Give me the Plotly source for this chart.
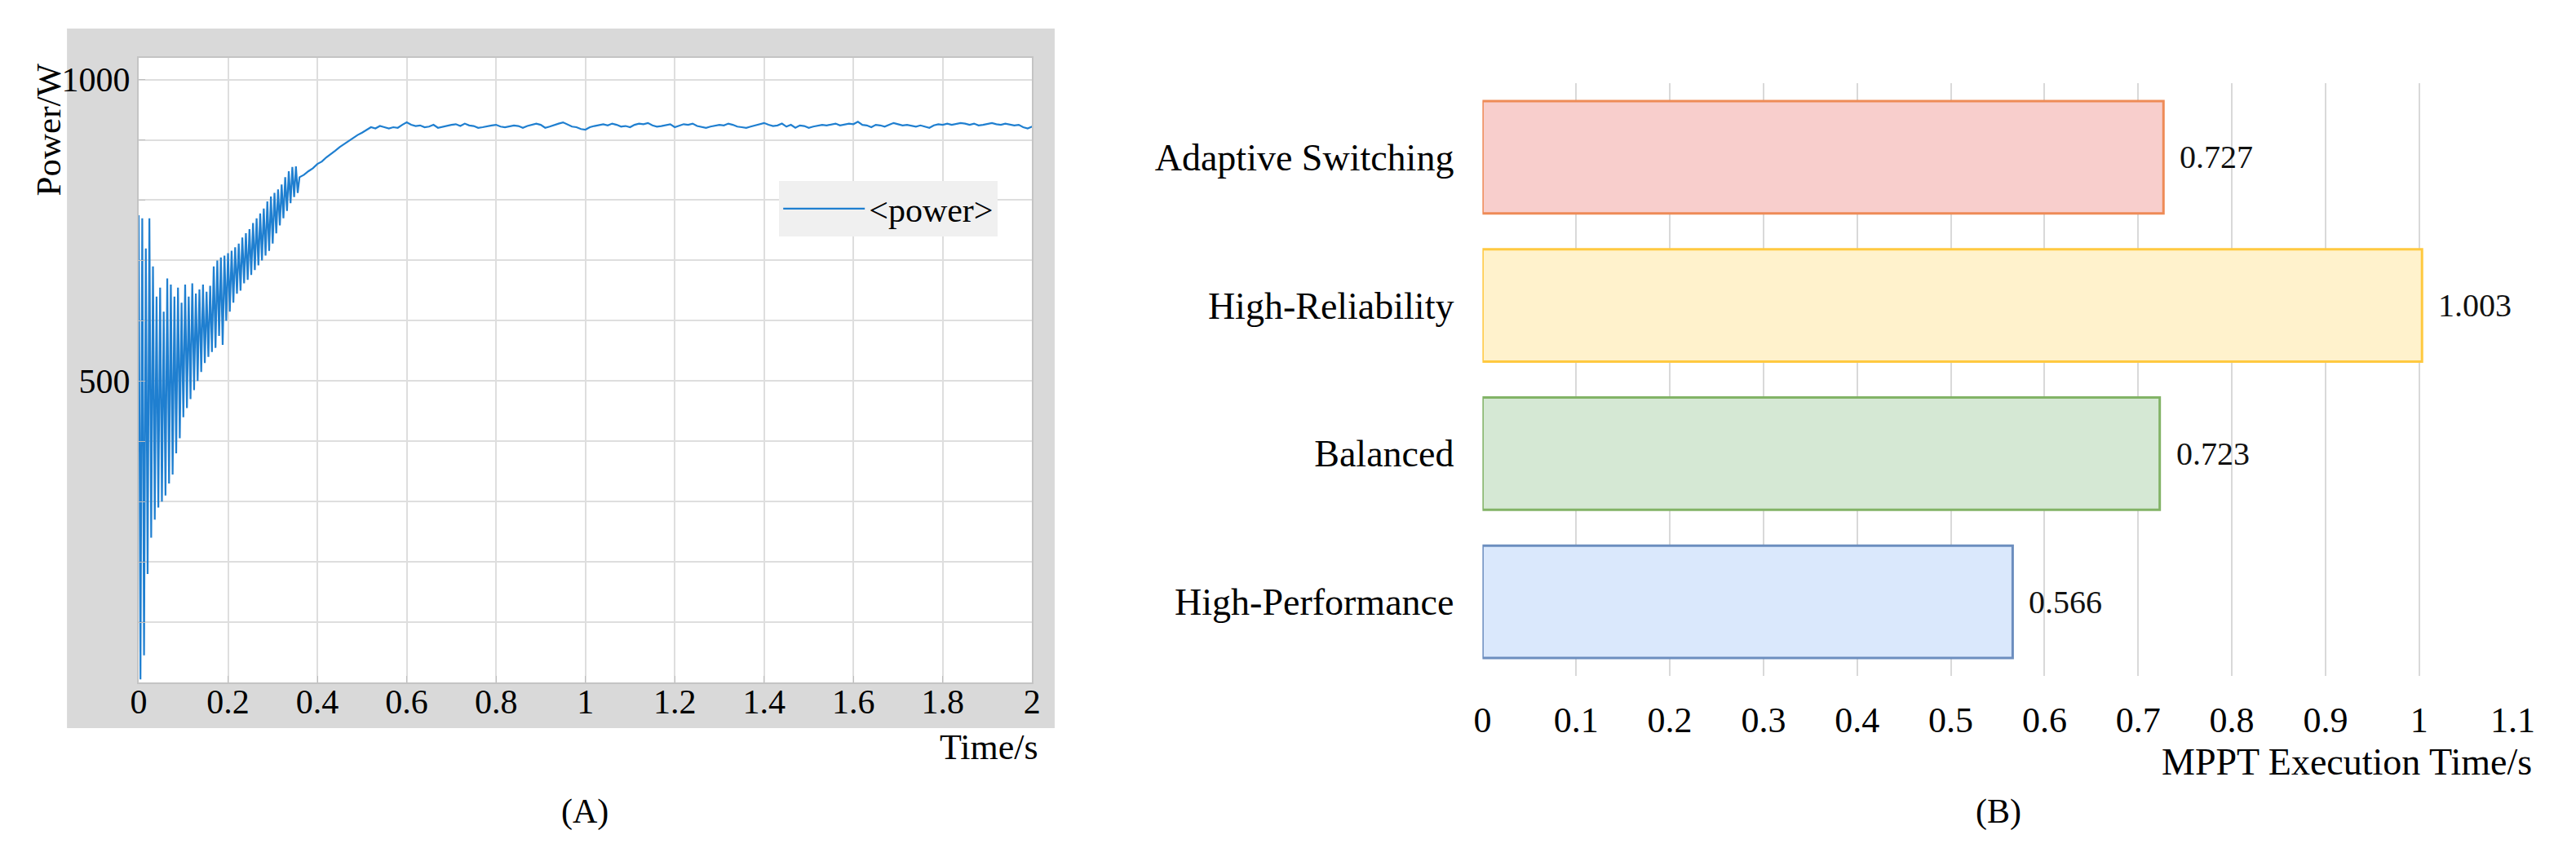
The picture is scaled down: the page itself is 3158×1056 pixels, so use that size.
import plotly.graph_objects as go

# ---------------- Panel A: power vs time ----------------
dt_osc = 0.004  # sample spacing of the oscillating start-up segment (s)
p_osc = [775, 5, 770, 45, 720, 180, 770, 240, 690, 270,
         640, 290, 655, 300, 615, 310, 670, 330, 660, 345,
         640, 380, 655, 405, 630, 440, 660, 455, 640, 470,
         662, 485, 645, 500, 652, 515, 660, 530, 648, 540,
         658, 548, 690, 555, 700, 575, 705, 560, 708, 600,
         712, 615, 716, 630, 722, 645, 728, 650, 738, 662,
         745, 668, 752, 676, 762, 684, 770, 692, 778, 700,
         786, 708, 798, 716, 806, 728, 812, 745, 818, 758,
         826, 770, 838, 782, 848, 795, 855, 805, 856, 812]

t_steady_start = 0.36
dt_steady = 0.01
p_steady = [838, 842, 848, 853, 860, 864, 871, 876, 882, 888,
            893, 899, 904, 908, 912, 916, 921, 919, 923, 921,
            919, 921, 920, 925, 929, 925, 923, 924, 921, 922,
            925, 920, 922, 924, 925, 926, 923, 927, 924, 923,
            920, 921, 923, 924, 925, 922, 921, 923, 924, 923,
            920, 923, 925, 927, 925, 920, 922, 925, 927, 929,
            925, 922, 921, 918, 917, 921, 923, 925, 926, 924,
            927, 925, 922, 923, 921, 925, 927, 926, 928, 924,
            922, 923, 925, 926, 921, 924, 926, 925, 927, 923,
            921, 920, 922, 923, 925, 924, 927, 925, 922, 921,
            920, 922, 924, 926, 928, 925, 923, 924, 927, 922,
            925, 920, 924, 923, 920, 922, 923, 925, 924, 926,
            927, 924, 925, 927, 926, 930, 925, 924, 921, 925,
            924, 922, 925, 928, 926, 924, 925, 923, 922, 924,
            922, 920, 924, 926, 925, 927, 925, 926, 928, 927,
            925, 927, 924, 925, 927, 928, 926, 925, 927, 926,
            924, 925, 921, 919, 922]

time_ticks = [0, 0.2, 0.4, 0.6, 0.8, 1.0, 1.2, 1.4, 1.6, 1.8, 2.0]
time_tick_labels = ["0", "0.2", "0.4", "0.6", "0.8", "1", "1.2", "1.4", "1.6", "1.8", "2"]
power_ticks = [0, 100, 200, 300, 400, 500, 600, 700, 800, 900, 1000]
power_tick_labels = ["", "", "", "", "", "500", "", "", "", "", "1000"]

# ---------------- Panel B: MPPT execution time ----------------
strategies = ["Adaptive Switching", "High-Reliability", "Balanced", "High-Performance"]
exec_times = [0.727, 1.003, 0.723, 0.566]
fill_colors = ["#F8CECC", "#FFF2CC", "#D5E8D4", "#DAE8FC"]
edge_colors = ["#EE8B57", "#FFC940", "#82B366", "#6C8EBF"]
exec_ticks = [0, 0.1, 0.2, 0.3, 0.4, 0.5, 0.6, 0.7, 0.8, 0.9, 1.0, 1.1]
exec_tick_labels = ["0", "0.1", "0.2", "0.3", "0.4", "0.5", "0.6", "0.7", "0.8", "0.9", "1", "1.1"]

# ---------------- layout geometry (pixels) ----------------
W, H = 3158, 1056
FONT = "Liberation Serif, Times New Roman, serif"


def px(x):
    return x / W


def py(y):
    return 1 - y / H


a_dom_x = [px(161), px(1270)]
a_dom_y = [py(837), py(71)]
b_dom_x = [px(1829), px(3108)]
b_dom_y = [py(829), py(102)]

t_all = [round(i * dt_osc, 3) for i in range(len(p_osc))] + \
        [round(t_steady_start + i * dt_steady, 2) for i in range(len(p_steady))]
p_all = p_osc + p_steady

fig = go.Figure()
fig.add_trace(go.Scatter(
    x=t_all, y=p_all, mode="lines", name="&lt;power&gt;",
    line=dict(color="#1F7FD0", width=2.2),
    xaxis="x", yaxis="y", showlegend=True,
))

fig.add_trace(go.Bar(
    x=exec_times, y=strategies, orientation="h",
    marker=dict(color=fill_colors, line=dict(color=edge_colors, width=3)),
    width=0.757, xaxis="x2", yaxis="y2", showlegend=False,
))

annotations = []
for s, v in zip(strategies, exec_times):
    annotations.append(dict(
        x=v, y=s, xref="x2", yref="y2", text=f"{v:.3f}", showarrow=False,
        xanchor="left", yanchor="middle", xshift=18,
        font=dict(family=FONT, size=40, color="#111111"),
    ))

annotations += [
    dict(x=px(49), y=py(159), xref="paper", yref="paper", text="Power/W",
         textangle=-90, showarrow=False, xanchor="center", yanchor="middle",
         font=dict(family=FONT, size=43, color="black")),
    dict(x=px(1280), y=py(916), xref="paper", yref="paper", text="Time/s",
         showarrow=False, xanchor="right", yanchor="middle",
         font=dict(family=FONT, size=44, color="black")),
    dict(x=px(3134), y=py(934), xref="paper", yref="paper", text="MPPT Execution Time/s",
         showarrow=False, xanchor="right", yanchor="middle",
         font=dict(family=FONT, size=46, color="black")),
    dict(x=px(715), y=py(995), xref="paper", yref="paper", text="(A)",
         showarrow=False, xanchor="center", yanchor="middle",
         font=dict(family=FONT, size=42, color="black")),
    dict(x=px(2470), y=py(995), xref="paper", yref="paper", text="(B)",
         showarrow=False, xanchor="center", yanchor="middle",
         font=dict(family=FONT, size=42, color="black")),
]

shapes = [
    dict(type="rect", xref="paper", yref="paper", x0=px(72), x1=px(1298),
         y0=py(893), y1=py(35), fillcolor="#D9D9D9", line=dict(width=0), layer="below"),
    dict(type="rect", xref="paper", yref="paper", x0=a_dom_x[0], x1=a_dom_x[1],
         y0=a_dom_y[0], y1=a_dom_y[1], fillcolor="white", line=dict(width=0), layer="below"),
]

fig.update_layout(
    width=W, height=H,
    margin=dict(l=0, r=0, t=0, b=0),
    paper_bgcolor="white", plot_bgcolor="white",
    font=dict(family=FONT, size=42, color="black"),
    xaxis=dict(domain=a_dom_x, anchor="y", range=[0, 2],
               tickvals=time_ticks, ticktext=time_tick_labels,
               showgrid=True, gridcolor="#DEDEDE", gridwidth=2, zeroline=False,
               showline=True, linecolor="#C4C4C4", linewidth=2, mirror=True,
               ticks="inside", ticklen=8, tickcolor="#BDBDBD",
               ticklabelstandoff=-14,
               tickfont=dict(family=FONT, size=42, color="black")),
    yaxis=dict(domain=a_dom_y, anchor="x", range=[0, 1036],
               tickvals=power_ticks, ticktext=power_tick_labels,
               showgrid=True, gridcolor="#DEDEDE", gridwidth=2, zeroline=False,
               showline=True, linecolor="#C4C4C4", linewidth=2, mirror=True,
               ticks="inside", ticklen=8, tickcolor="#BDBDBD",
               tickfont=dict(family=FONT, size=42, color="black")),
    xaxis2=dict(domain=b_dom_x, anchor="y2", range=[0, 1.1],
                tickvals=exec_ticks, ticktext=exec_tick_labels,
                showgrid=True, gridcolor="#D9D9D9", gridwidth=2, zeroline=False,
                showline=False, ticks="", ticklabelstandoff=24,
                tickfont=dict(family=FONT, size=44, color="black")),
    yaxis2=dict(domain=b_dom_y, anchor="x2", type="category",
                categoryorder="array", categoryarray=strategies,
                autorange="reversed", showgrid=False, zeroline=False,
                showline=False, ticks="", ticklabelstandoff=34,
                tickfont=dict(family=FONT, size=46, color="black")),
    legend=dict(x=px(956), y=py(222), xanchor="left", yanchor="top",
                bgcolor="#F0F0F0", borderwidth=0,
                font=dict(family=FONT, size=42, color="black"),
                itemwidth=100),
    annotations=annotations,
    shapes=shapes,
)

fig.write_html("out.html", config={"displayModeBar": False},
               post_script="document.body.style.margin='0';")
